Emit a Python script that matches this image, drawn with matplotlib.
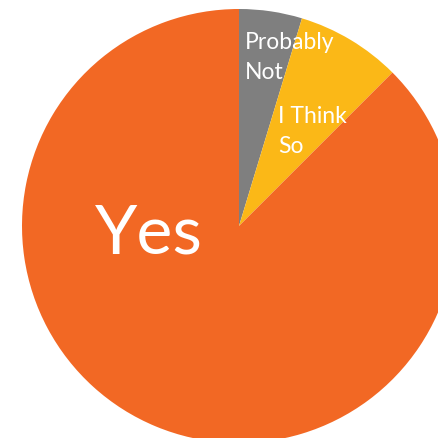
import matplotlib.pyplot as plt

# survey answers (counts)
answers = ['Probably\nNot', 'I Think\nSo', 'Yes']
counts = [3, 5, 56]
colors = ['#7F7F7F', '#FBB817', '#F26824']

plt.rcParams['font.family'] = ['Lato', 'DejaVu Sans']

fig = plt.figure(figsize=(4.39, 4.38), dpi=100)
ax = fig.add_axes([0, 0, 1, 1])

wedges, _ = ax.pie(counts, colors=colors, startangle=90, counterclock=False,
                   center=(239, 212), radius=217, frame=True,
                   wedgeprops=dict(linewidth=0))
ax.set_xlim(0, 439)
ax.set_ylim(0, 438)
ax.set_aspect('equal')
ax.axis('off')

# multi-line labels: y is the baseline of the last line
ax.text(245, 359, answers[0], color='white', fontsize=16.5, va='baseline', ha='left',
        linespacing=1.55)
ax.text(278, 285, answers[1], color='white', fontsize=16.5, va='baseline', ha='left',
        linespacing=1.55)
ax.text(95, 184, answers[2], color='white', fontsize=49, va='baseline', ha='left')

fig.savefig('out.png', dpi=100)
